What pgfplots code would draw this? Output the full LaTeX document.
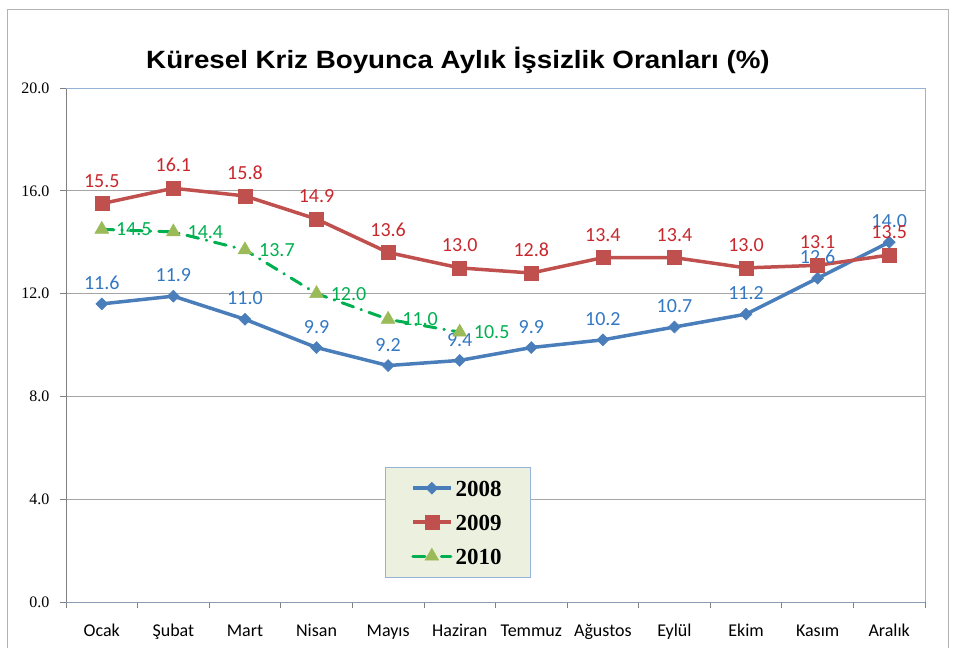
\documentclass[border=0pt]{standalone}
\usepackage{fontspec}
\setmainfont{Carlito}
\newfontfamily\arialf{Liberation Sans}
\newfontfamily\timesf{Liberation Serif}
\usepackage{pgfplots}
\pgfplotsset{compat=1.18}
\definecolor{lblue}{RGB}{74,126,187}
\definecolor{lred}{RGB}{192,80,77}
\definecolor{lgreen}{RGB}{0,176,80}
\definecolor{tri}{RGB}{155,187,89}
\definecolor{tblue}{RGB}{50,120,195}
\definecolor{tred}{RGB}{200,40,45}
\definecolor{gridc}{RGB}{165,165,165}
\definecolor{axc}{RGB}{128,128,128}
\definecolor{bordc}{RGB}{149,179,215}
\definecolor{botc}{RGB}{140,155,180}
\definecolor{legfill}{RGB}{235,241,222}
\begin{document}
\begin{tikzpicture}[x=1pt,y=1pt]
\useasboundingbox (0,0) rectangle (958,648);
\draw[gray!60, line width=1pt] (7,0) -- (7,638) -- (948,638) -- (948,0);
\node[font=\arialf\bfseries\fontsize{25}{30}\selectfont, anchor=base] at (458,579) {\scalebox{1.11}[1]{Küresel Kriz Boyunca Aylık İşsizlik Oranları (\%)}};
\begin{axis}[
  at={(66pt,46pt)}, anchor=south west, scale only axis,
  width=859pt, height=514pt,
  xmin=-0.5, xmax=11.5, ymin=0, ymax=20,
  clip=false,
  axis x line*=bottom, axis y line*=left,
  y axis line style={axc, line width=0.8pt},
  x axis line style={botc, line width=0.8pt},
  xtick={0,...,11},
  xticklabels={Ocak,Şubat,Mart,Nisan,Mayıs,Haziran,Temmuz,Ağustos,Eylül,Ekim,Kasım,Aralık},
  minor xtick={-0.5,0.5,...,11.5},
  major x tick style={draw=none},
  minor x tick style={axc, line width=0.8pt},
  ytick={0,4,...,20},
  ytick style={axc, line width=0.8pt},
  tick align=outside,
  major tick length=6pt, minor tick length=6pt,
  ymajorgrids, grid style={gridc, line width=0.8pt},
  /pgf/number format/fixed, /pgf/number format/fixed zerofill,
  /pgf/number format/precision=1, /pgf/number format/assume math mode=true,
  yticklabel style={font=\timesf\fontsize{16}{19}\selectfont, xshift=-7pt},
  xticklabel style={font=\fontsize{18}{21}\selectfont, inner sep=0pt, text height=13pt, text depth=4pt, yshift=-15pt},
  legend style={at={(0.371,0.263)}, anchor=north west, fill=legfill, draw=bordc, line width=0.8pt,
     font=\timesf\bfseries\fontsize{23}{26}\selectfont, inner xsep=26pt, inner ysep=10pt,
     row sep=12pt, nodes={inner sep=3pt, text height=16pt, text depth=0pt}},
  legend cell align=left,
  legend image code/.code={\draw[mark repeat=2,mark phase=2,#1] plot coordinates {(0pt,0pt) (19pt,0pt) (38pt,0pt)};},
  nodes near coords,
  every node near coord/.append style={font=\fontsize{20}{23}\selectfont, inner sep=0pt},
]
\addplot[lblue, line width=3.5pt, mark=diamond*, mark size=6pt, mark options={solid, fill=lblue, line width=0.5pt, xscale=1.33},
  every node near coord/.append style={tblue, anchor=south, yshift=14pt}]
  coordinates {(0,11.6)(1,11.9)(2,11.0)(3,9.9)(4,9.2)(5,9.4)(6,9.9)(7,10.2)(8,10.7)(9,11.2)(10,12.6)(11,14.0)};
\addlegendentry{2008}
\addplot[lred, line width=3.5pt, mark=square*, mark size=7pt, mark options={solid, fill=lred, line width=0.5pt},
  every node near coord/.append style={tred, anchor=south, yshift=16pt}]
  coordinates {(0,15.5)(1,16.1)(2,15.8)(3,14.9)(4,13.6)(5,13.0)(6,12.8)(7,13.4)(8,13.4)(9,13.0)(10,13.1)(11,13.5)};
\addlegendentry{2009}
\addplot[lgreen, line width=3pt, line cap=round, dash pattern=on 12pt off 8pt on 0.5pt off 8pt,
  mark=triangle*, mark size=8pt, mark options={solid, fill=tri, draw=tri, line width=0.5pt},
  every node near coord/.append style={lgreen, anchor=west, xshift=14pt}]
  coordinates {(0,14.5)(1,14.4)(2,13.7)(3,12.0)(4,11.0)(5,10.5)};
\addlegendentry{2010}
\draw[bordc, line width=0.8pt] (rel axis cs:0,1) -- (rel axis cs:1,1) -- (rel axis cs:1,0);
\end{axis}
\end{tikzpicture}
\end{document}
